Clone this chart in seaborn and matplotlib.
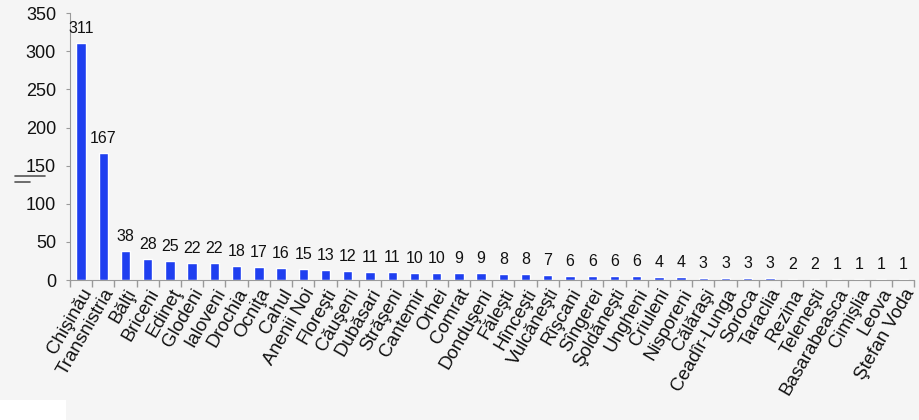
import matplotlib.pyplot as plt
import matplotlib.lines as mlines
import matplotlib.patches as mpatches
import seaborn as sns
import pandas as pd
import numpy as np

# === DATA ===
districts = [
    "Chişinău", "Transnistria", "Bălţi", "Briceni", "Edineţ", "Glodeni",
    "Ialoveni", "Drochia", "Ocniţa", "Cahul", "Anenii Noi", "Floreşti",
    "Căuşeni", "Dubăsari", "Străşeni", "Cantemir", "Orhei", "Comrat",
    "Donduşeni", "Făleşti", "Hînceşti", "Vulcăneşti", "Rîşcani", "Sîngerei",
    "Şoldăneşti", "Ungheni", "Criuleni", "Nisporeni", "Călăraşi",
    "Ceadîr-Lunga", "Soroca", "Taraclia", "Rezina", "Teleneşti",
    "Basarabeasca", "Cimişlia", "Leova", "Ştefan Voda",
]
counts = [
    311, 167, 38, 28, 25, 22, 22, 18, 17, 16, 15, 13, 12, 11, 11, 10, 10, 9,
    9, 8, 8, 7, 6, 6, 6, 6, 4, 4, 3, 3, 3, 3, 2, 2, 1, 1, 1, 1,
]
y_ticks = [0, 50, 100, 150, 200, 250, 300, 350]

df = pd.DataFrame({"District": districts, "Count": counts})

# === STYLE ===
sns.set_theme(style="white")
plt.rcParams["font.family"] = ["Liberation Sans", "DejaVu Sans"]
bg = "#f5f5f5"
bar_color = "#1f3ff0"
spine_color = "#9a9a9a"

fig = plt.figure(figsize=(9.2, 4.2), dpi=100, facecolor=bg)
ax = fig.add_axes([0.076, 0.333, 0.918, 0.636], facecolor=bg)

sns.barplot(data=df, x="District", y="Count", color=bar_color,
            width=0.42, saturation=1, ax=ax)

ax.bar_label(ax.containers[0], labels=[str(c) for c in counts],
             padding=5, fontsize=11.5, color="#111111")

ax.set_ylim(0, 350)
ax.set_yticks(y_ticks)
ax.set_xlim(-0.5, len(districts) - 0.5)
ax.set_xlabel("")
ax.set_ylabel("")

ax.tick_params(axis="y", labelsize=13, length=3, width=0.8, pad=7,
               color=spine_color, labelcolor="#111111", left=True)
ax.set_xticks(range(len(districts)))
ax.set_xticklabels(districts, rotation=60, ha="right", rotation_mode="anchor",
                   fontsize=13.5, color="#111111")
ax.tick_params(axis="x", which="major", length=0, pad=4)
ax.set_xticks(np.arange(-0.5, len(districts), 1), minor=True)
ax.tick_params(axis="x", which="minor", length=5, color=spine_color,
               direction="out", bottom=True)

for side in ["top", "right"]:
    ax.spines[side].set_visible(False)
for side in ["left", "bottom"]:
    ax.spines[side].set_color(spine_color)
    ax.spines[side].set_linewidth(0.8)

# small "=" mark left of the axis
fig.add_artist(mlines.Line2D([15 / 920, 45 / 920], [1 - 176 / 420] * 2,
                             color="#555555", lw=1.2))
fig.add_artist(mlines.Line2D([15 / 920, 30 / 920], [1 - 182 / 420] * 2,
                             color="#555555", lw=1.2))
# white patch at bottom left corner
fig.add_artist(mpatches.Rectangle((0, 0), 66 / 920, 20 / 420,
                                  transform=fig.transFigure,
                                  facecolor="white", edgecolor="none"))

fig.savefig("out.png", dpi=100, facecolor=bg)
